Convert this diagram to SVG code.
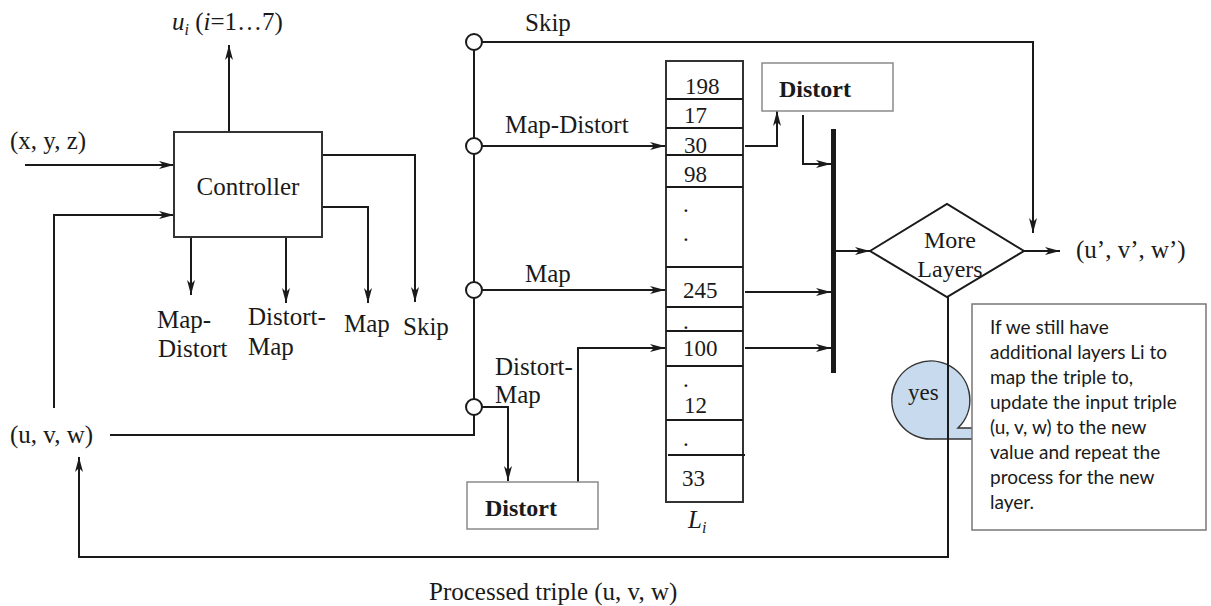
<svg xmlns="http://www.w3.org/2000/svg" width="1211" height="606" viewBox="0 0 1211 606">
<style>
.t{font-family:"Liberation Serif","Times New Roman",serif;font-size:25px;fill:#1a1a1a}
.n{font-family:"Liberation Serif","Times New Roman",serif;font-size:23px;fill:#1a1a1a}
.b{font-family:"Liberation Serif","Times New Roman",serif;font-size:24px;font-weight:bold;fill:#1a1a1a}
.c{font-family:Lato,"Open Sans",sans-serif;font-size:19px;fill:#1a1a1a}
.ln{fill:none;stroke:#1a1a1a;stroke-width:2}
.box{fill:#fff;stroke:#333;stroke-width:2}
.gbox{fill:#fff;stroke:#8a8a8a;stroke-width:1.5}
.circ{fill:#fff;stroke:#1a1a1a;stroke-width:2}
</style>
<defs>
<marker id="ah" markerUnits="userSpaceOnUse" markerWidth="16" markerHeight="10" refX="15" refY="5" orient="auto">
<path d="M0,1 L15,5 L0,9 L4,5 Z" fill="#1a1a1a"/>
</marker>
</defs>
<rect width="1211" height="606" fill="#fff"/>

<g id="yes-callout">
<path d="M931,439 A39,39 0 1 1 958,428 L985,428 L985,439 Z" fill="#c8dbee" stroke="#333" stroke-width="1.5"/>
<text class="t" x="908" y="400" style="font-size:23px">yes</text>
</g>

<g id="connectors">
<line class="ln" x1="229" y1="132" x2="229" y2="45" marker-end="url(#ah)"/>
<line class="ln" x1="25" y1="165" x2="174" y2="165" marker-end="url(#ah)"/>
<path class="ln" d="M54,408 L54,215 L174,215" marker-end="url(#ah)"/>
<path class="ln" d="M322,155 L415,155 L415,302" marker-end="url(#ah)"/>
<path class="ln" d="M322,207 L368,207 L368,303" marker-end="url(#ah)"/>
<line class="ln" x1="191" y1="237" x2="191" y2="295" marker-end="url(#ah)"/>
<line class="ln" x1="286" y1="237" x2="286" y2="303" marker-end="url(#ah)"/>
<path class="ln" d="M110,435 L474,435 L474,42"/>
<path class="ln" d="M482,42 L1033,42 L1033,233" marker-end="url(#ah)"/>
<line class="ln" x1="482" y1="146" x2="665" y2="146" marker-end="url(#ah)"/>
<line class="ln" x1="482" y1="290" x2="665" y2="290" marker-end="url(#ah)"/>
<path class="ln" d="M482,407 L508,407 L508,481" marker-end="url(#ah)"/>
<path class="ln" d="M578,482 L578,348 L665,348" marker-end="url(#ah)"/>
<path class="ln" d="M745,146 L777,146 L777,111" marker-end="url(#ah)"/>
<path class="ln" d="M803,115 L803,164 L831,164" marker-end="url(#ah)"/>
<line class="ln" x1="745" y1="292" x2="831" y2="292" marker-end="url(#ah)"/>
<line class="ln" x1="745" y1="348" x2="831" y2="348" marker-end="url(#ah)"/>
<line class="ln" x1="835" y1="251" x2="870" y2="251" marker-end="url(#ah)"/>
<line class="ln" x1="1024" y1="251" x2="1060" y2="251" marker-end="url(#ah)"/>
<path class="ln" d="M948,297 L948,557 L79,557 L79,457" marker-end="url(#ah)"/>
</g>

<g id="controller">
<rect class="box" x="174" y="132" width="148" height="105"/>
<text class="t" x="248" y="195" text-anchor="middle">Controller</text>
</g>

<g id="labels-left">
<text class="t" x="172" y="30"><tspan font-style="italic">u</tspan><tspan font-style="italic" font-size="16" dy="5">i</tspan><tspan dy="-5"> (</tspan><tspan font-style="italic">i</tspan><tspan>=1…7)</tspan></text>
<text class="t" x="10" y="149">(x, y, z)</text>
<text class="t" x="10" y="443">(u, v, w)</text>
<text class="t" x="157" y="328">Map-</text>
<text class="t" x="158" y="357">Distort</text>
<text class="t" x="248" y="325">Distort-</text>
<text class="t" x="248" y="355">Map</text>
<text class="t" x="344" y="332">Map</text>
<text class="t" x="403" y="335">Skip</text>
<text class="t" x="429" y="600">Processed triple (u, v, w)</text>
</g>

<g id="switches">
<circle class="circ" cx="474" cy="42" r="8"/>
<circle class="circ" cx="474" cy="146" r="8"/>
<circle class="circ" cx="474" cy="290" r="8"/>
<circle class="circ" cx="474" cy="407" r="8"/>
<text class="t" x="525" y="31">Skip</text>
<text class="t" x="505" y="133">Map-Distort</text>
<text class="t" x="525" y="282">Map</text>
<text class="t" x="495" y="375">Distort-</text>
<text class="t" x="495" y="403">Map</text>
</g>

<g id="layer-list">
<rect class="box" x="666" y="61" width="77" height="441"/>
<g class="ln">
<line x1="666" y1="99" x2="743" y2="99"/>
<line x1="666" y1="128" x2="743" y2="128"/>
<line x1="666" y1="155" x2="743" y2="155"/>
<line x1="666" y1="187" x2="743" y2="187"/>
<line x1="666" y1="267" x2="743" y2="267"/>
<line x1="666" y1="307" x2="743" y2="307"/>
<line x1="666" y1="331" x2="743" y2="331"/>
<line x1="666" y1="366" x2="743" y2="366"/>
<line x1="666" y1="420" x2="743" y2="420"/>
<line x1="668" y1="455" x2="745" y2="455"/>
</g>
<text class="n" x="685" y="94">198</text>
<text class="n" x="684" y="123">17</text>
<text class="n" x="684" y="153">30</text>
<text class="n" x="684" y="182">98</text>
<text class="n" x="683" y="212">.</text>
<text class="n" x="683" y="241">.</text>
<text class="n" x="683" y="298">245</text>
<text class="n" x="683" y="329">.</text>
<text class="n" x="683" y="356">100</text>
<text class="n" x="683" y="387">.</text>
<text class="n" x="684" y="413">12</text>
<text class="n" x="683" y="446">.</text>
<text class="n" x="682" y="486">33</text>
<text class="t" x="688" y="528" font-style="italic">L<tspan font-size="16" dy="5">i</tspan></text>
</g>

<g id="distort-top">
<rect class="gbox" x="762" y="63" width="131" height="48"/>
<text class="b" x="779" y="97">Distort</text>
</g>

<g id="distort-bottom">
<rect class="gbox" x="467" y="482" width="131" height="47"/>
<text class="b" x="485" y="516">Distort</text>
</g>

<g id="merge-bar">
<rect x="831" y="129" width="5" height="244" fill="#1a1a1a"/>
</g>

<g id="more-layers">
<polygon points="870,251 947,204 1024,251 947,297" fill="#fff" stroke="#1a1a1a" stroke-width="2"/>
<text class="t" x="950" y="248" text-anchor="middle" style="font-size:24px">More</text>
<text class="t" x="950" y="277" text-anchor="middle" style="font-size:24px">Layers</text>
</g>

<g id="output">
<text class="t" x="1076" y="258">(u’, v’, w’)</text>
</g>

<g id="note">
<rect x="972" y="304" width="234" height="226" fill="#fff" stroke="#777" stroke-width="1.5"/>
<text class="c" x="990" y="334">If we still have</text>
<text class="c" x="990" y="359">additional layers Li to</text>
<text class="c" x="990" y="384">map the triple to,</text>
<text class="c" x="990" y="409">update the input triple</text>
<text class="c" x="990" y="434">(u, v, w) to the new</text>
<text class="c" x="990" y="459">value and repeat the</text>
<text class="c" x="990" y="484">process for the new</text>
<text class="c" x="990" y="509">layer.</text>
</g>
</svg>
